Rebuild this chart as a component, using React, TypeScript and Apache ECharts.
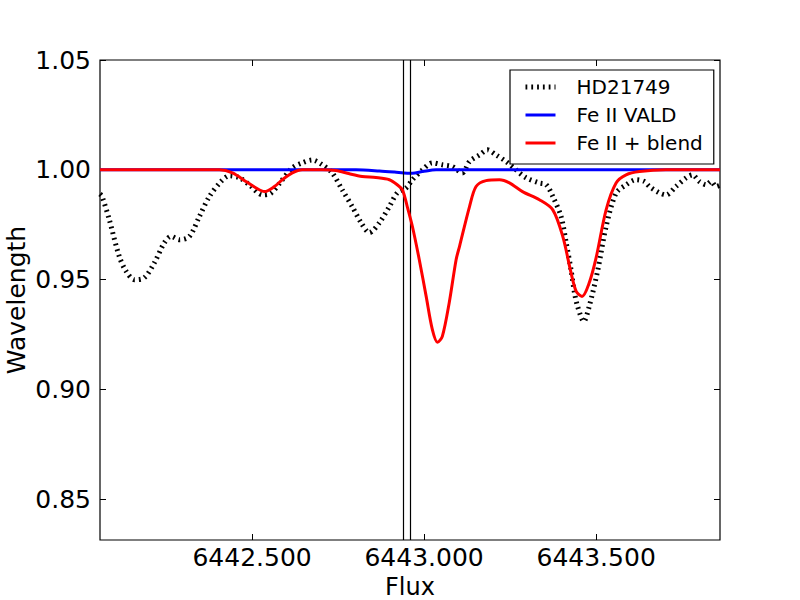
import React, { useEffect, useRef } from "react";
import * as echarts from "echarts";

// HD21749 observed spectrum
const obsWave = [
  6442.058, 6442.064, 6442.085, 6442.114, 6442.134, 6442.158, 6442.187, 6442.216, 6442.245, 6442.264,
  6442.289, 6442.318, 6442.347, 6442.376, 6442.410, 6442.434, 6442.463, 6442.492, 6442.530, 6442.555,
  6442.584, 6442.617, 6442.646, 6442.675, 6442.704, 6442.733, 6442.762, 6442.791, 6442.817, 6442.841,
  6442.870, 6442.899, 6442.922, 6442.948, 6442.966, 6442.995, 6443.024, 6443.053, 6443.082, 6443.111,
  6443.132, 6443.161, 6443.184, 6443.209, 6443.238, 6443.267, 6443.296, 6443.335, 6443.355, 6443.374,
  6443.398, 6443.413, 6443.427, 6443.437, 6443.446, 6443.464, 6443.480, 6443.505, 6443.529, 6443.558,
  6443.587, 6443.616, 6443.640, 6443.655, 6443.684, 6443.703, 6443.732, 6443.762, 6443.780, 6443.800,
  6443.820, 6443.834, 6443.849, 6443.860,
];
const obsFlux = [
  0.9890, 0.9879, 0.9773, 0.9606, 0.9538, 0.9500, 0.9509, 0.9577, 0.9668, 0.9697,
  0.9682, 0.9697, 0.9788, 0.9879, 0.9947, 0.9973, 0.9964, 0.9932, 0.9886, 0.9894,
  0.9947, 1.0009, 1.0032, 1.0045, 1.0023, 0.9986, 0.9909, 0.9833, 0.9759, 0.9714,
  0.9759, 0.9833, 0.9895, 0.9918, 0.9955, 1.0000, 1.0032, 1.0023, 1.0015, 0.9986,
  1.0038, 1.0068, 1.0091, 1.0068, 1.0038, 1.0000, 0.9964, 0.9940, 0.9932, 0.9879,
  0.9788, 0.9668, 0.9545, 0.9441, 0.9379, 0.9310, 0.9379, 0.9545, 0.9742, 0.9894,
  0.9932, 0.9955, 0.9947, 0.9924, 0.9895, 0.9886, 0.9924, 0.9964, 0.9977, 0.9947,
  0.9932, 0.9947, 0.9924, 0.9930,
];

// Fe II VALD synthetic
const valdWave = [6442.058, 6442.802, 6442.870, 6442.914, 6442.951, 6442.966, 6442.995, 6443.035, 6443.860];
const valdFlux = [1.0, 1.0, 0.9995, 0.999, 0.9985, 0.9985, 0.9992, 1.0, 1.0];

// Fe II + blend synthetic
const blendWave = [
  6442.058, 6442.405, 6442.443, 6442.482, 6442.512, 6442.536, 6442.565, 6442.588, 6442.617, 6442.646,
  6442.704, 6442.744, 6442.783, 6442.820, 6442.860, 6442.899, 6442.922, 6442.937, 6442.951, 6442.966,
  6442.986, 6443.006, 6443.024, 6443.039, 6443.053, 6443.073, 6443.093, 6443.103, 6443.132, 6443.151,
  6443.180, 6443.219, 6443.248, 6443.286, 6443.335, 6443.374, 6443.403, 6443.427, 6443.442, 6443.459,
  6443.480, 6443.500, 6443.529, 6443.558, 6443.587, 6443.626, 6443.703, 6443.860,
];
const blendFlux = [
  1.0, 1.0, 0.9986, 0.9947, 0.9917, 0.9901, 0.9924, 0.9955, 0.9986, 1.0,
  1.0, 0.9997, 0.9982, 0.997, 0.9965, 0.9955, 0.9932, 0.9909, 0.9833, 0.9742,
  0.9591, 0.9424, 0.9273, 0.9215, 0.9242, 0.9395, 0.9591, 0.9652, 0.9833, 0.9924,
  0.9951, 0.9955, 0.9941, 0.9901, 0.9864, 0.9818, 0.9697, 0.9532, 0.9447, 0.9424,
  0.9486, 0.9600, 0.9818, 0.9940, 0.9977, 0.9992, 1.0, 1.0,
];

const markerLines = [6442.943, 6442.956];
const xTicks = [6442.5, 6443.0, 6443.5];
const yTicks = [0.85, 0.9, 0.95, 1.0, 1.05];
const xRange = [6442.058, 6443.86];
const yRange = [0.8315, 1.05];

const FONT = "DejaVu Sans";
const DOTTED = { color: "#000", width: 5, type: [1.8, 4], cap: "butt" };

export default function App() {
  const ref = useRef<HTMLDivElement>(null);
  useEffect(() => {
    if (!ref.current) return;
    const chart = echarts.init(ref.current, null, { renderer: "svg" });
    const zip = (a: number[], b: number[]) => a.map((v, i) => [v, b[i]]);
    const tickCommon = { show: true, inside: true, length: 6, lineStyle: { color: "#000", width: 1 } };
    chart.setOption({
      animation: false,
      backgroundColor: "#fff",
      textStyle: { fontFamily: FONT },
      grid: {
        left: 100,
        top: 60,
        width: 620,
        height: 480,
        containLabel: false,
        outerBoundsMode: "none",
        show: true,
        borderColor: "#000",
        borderWidth: 1.2,
        backgroundColor: "#fff",
      },
      legend: {
        orient: "vertical",
        left: 510,
        top: 70,
        backgroundColor: "#fff",
        borderColor: "#000",
        borderWidth: 1.2,
        borderRadius: 0,
        padding: [7, 11, 11, 13],
        itemWidth: 30,
        itemHeight: 14,
        itemGap: 8,
        itemStyle: { color: "rgba(0,0,0,0)", borderColor: "rgba(0,0,0,0)", borderWidth: 0, opacity: 0 },
        textStyle: { fontFamily: FONT, fontSize: 20, color: "#000", padding: [0, 0, 0, 16] },
        data: [
          { name: "HD21749", lineStyle: DOTTED },
          { name: "Fe II VALD", lineStyle: { color: "#0000ff", width: 3 } },
          { name: "Fe II + blend", lineStyle: { color: "#ff0000", width: 3 } },
        ],
      },
      xAxis: [
        {
          type: "value",
          min: xRange[0],
          max: xRange[1],
          position: "bottom",
          axisLine: { show: false },
          splitLine: { show: false },
          axisTick: { ...tickCommon, customValues: xTicks },
          axisLabel: {
            customValues: xTicks,
            formatter: (v: number) => v.toFixed(3),
            fontFamily: FONT,
            fontSize: 25,
            color: "#000",
            margin: 5,
          },
          name: "Flux",
          nameLocation: "middle",
          nameGap: 20,
          nameTextStyle: { fontFamily: FONT, fontSize: 24, color: "#000" },
        },
        {
          type: "value",
          min: xRange[0],
          max: xRange[1],
          position: "top",
          axisLine: { show: false },
          splitLine: { show: false },
          axisTick: { ...tickCommon, customValues: xTicks },
          axisLabel: { show: false },
        },
      ],
      yAxis: [
        {
          type: "value",
          min: yRange[0],
          max: yRange[1],
          position: "left",
          axisLine: { show: false },
          splitLine: { show: false },
          axisTick: { ...tickCommon, customValues: yTicks },
          axisLabel: {
            customValues: yTicks,
            formatter: (v: number) => v.toFixed(2),
            fontFamily: FONT,
            fontSize: 25,
            color: "#000",
            margin: 9,
          },
          name: "Wavelength",
          nameLocation: "middle",
          nameRotate: 90,
          nameGap: 71,
          nameMoveOverlap: false,
          nameTextStyle: { fontFamily: FONT, fontSize: 25, color: "#000" },
        },
        {
          type: "value",
          min: yRange[0],
          max: yRange[1],
          position: "right",
          axisLine: { show: false },
          splitLine: { show: false },
          axisTick: { ...tickCommon, customValues: yTicks },
          axisLabel: { show: false },
        },
      ],
      series: [
        {
          name: "HD21749",
          type: "line",
          data: zip(obsWave, obsFlux),
          symbol: "none",
          smooth: 0.3,
          lineStyle: DOTTED,
          itemStyle: { color: "#000" },
          z: 3,
          markLine: {
            silent: true,
            symbol: "none",
            label: { show: false },
            lineStyle: { color: "#000", width: 1.2, type: "solid" },
            data: markerLines.map((v) => ({ xAxis: v })),
          },
        },
        {
          name: "Fe II VALD",
          type: "line",
          data: zip(valdWave, valdFlux),
          symbol: "none",
          smooth: 0.3,
          lineStyle: { color: "#0000ff", width: 3 },
          itemStyle: { color: "#0000ff" },
          z: 4,
        },
        {
          name: "Fe II + blend",
          type: "line",
          data: zip(blendWave, blendFlux),
          symbol: "none",
          smooth: 0.3,
          lineStyle: { color: "#ff0000", width: 3 },
          itemStyle: { color: "#ff0000" },
          z: 5,
        },
      ],
    });
    return () => chart.dispose();
  }, []);
  return (
    <div
      ref={ref}
      style={{ position: "fixed", left: 0, top: 0, width: 800, height: 600, background: "#fff" }}
    />
  );
}
